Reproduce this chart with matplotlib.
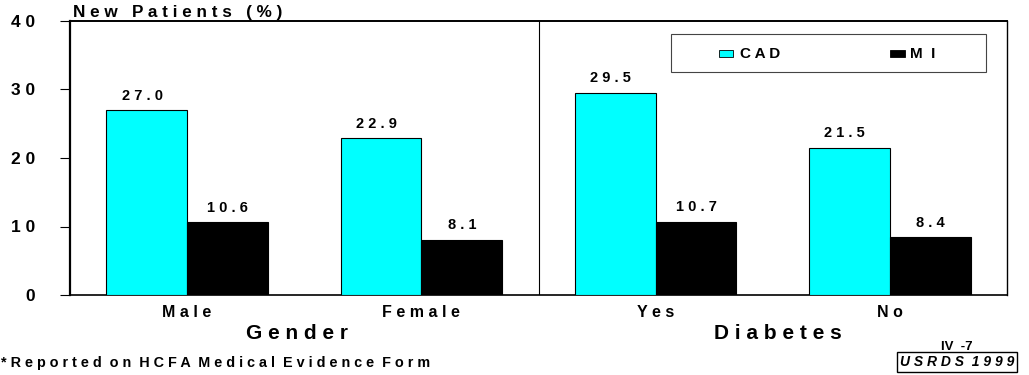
import matplotlib
matplotlib.use("Agg")
import matplotlib.pyplot as plt
from matplotlib.patches import Rectangle
import numpy as np

categories = ["Male", "Female", "Yes", "No"]
cad = [27.0, 22.9, 29.5, 21.5]
mi = [10.6, 8.1, 10.7, 8.4]
group_names = ["Gender", "Diabetes"]
group_centers = [0.47, 2.52]
series_names = ["CAD", "MI"]
y_ticks = [0, 10, 20, 30, 40]

CYAN = "#00FFFF"
FONT = "Liberation Sans"
plt.rcParams["font.family"] = [FONT, "DejaVu Sans"]


def spaced(s):
    return " ".join(s).replace("   ", "  ")


fig = plt.figure(figsize=(10.29, 3.75), dpi=100)
ax = fig.add_axes([70 / 1029, 1 - 295 / 375, (1007 - 70) / 1029, (295 - 21) / 375])

x = np.arange(len(categories))
w = 0.345
ax.bar(x - w / 2, cad, w, color=CYAN, edgecolor="black", linewidth=0.8, zorder=3)
ax.bar(x + w / 2, mi, w, color="black", edgecolor="black", linewidth=0.8, zorder=3)

for xi, v in zip(x - w / 2, cad):
    ax.text(xi - 0.02, v + 1.1, spaced(f"{v:.1f}"), ha="center", va="bottom",
            fontsize=10.5, fontweight="bold")
for xi, v in zip(x + w / 2, mi):
    ax.text(xi, v + 1.1, spaced(f"{v:.1f}"), ha="center", va="bottom",
            fontsize=10.5, fontweight="bold")

ax.set_xlim(-0.5, 3.5)
ax.set_ylim(0, 40)
ax.set_yticks(y_ticks)
ax.set_yticklabels([spaced(str(t)) for t in y_ticks], fontsize=12.5, fontweight="bold")
ax.tick_params(axis="y", direction="out", length=7, width=0.8, pad=18)
ax.set_xticks([])
for side in ["left", "top", "right", "bottom"]:
    ax.spines[side].set_color("black")
ax.spines["left"].set_linewidth(1.6)
ax.spines["top"].set_linewidth(1.4)
ax.spines["right"].set_linewidth(1.0)
ax.spines["bottom"].set_linewidth(1.2)

# divider between the two groupings
ax.axvline(1.5, color="black", linewidth=0.8, zorder=2)

# category labels below the axis
for xi, c in zip(x, categories):
    ax.annotate(spaced(c), xy=(xi, 0), xycoords=("data", "axes fraction"),
                xytext=(0, -7), textcoords="offset points", ha="center", va="top",
                fontsize=11.5, fontweight="bold")
for gc, g in zip(group_centers, group_names):
    ax.annotate(spaced(g), xy=(gc, 0), xycoords=("data", "axes fraction"),
                xytext=(0, -21), textcoords="offset points", ha="center", va="top",
                fontsize=15, fontweight="bold")

# y-axis title sitting on top of the frame
fig.text(73 / 1029, 1 - 20 / 375, " ".join("New Patients (%)"),
         ha="left", va="bottom", fontsize=12.3, fontweight="bold")

# legend box
fig.patches.append(Rectangle((671 / 1029, 1 - 72 / 375), (986 - 671) / 1029, (72 - 34) / 375,
                             transform=fig.transFigure, facecolor="white",
                             edgecolor="#444444", linewidth=0.8, zorder=5))
fig.patches.append(Rectangle((719 / 1029, 1 - 57 / 375), 14 / 1029, 7 / 375,
                             transform=fig.transFigure, facecolor=CYAN,
                             edgecolor="black", linewidth=0.6, zorder=6))
fig.text(740 / 1029, 1 - 53.5 / 375, spaced(series_names[0]), ha="left", va="center",
         fontsize=11, fontweight="bold", zorder=6)
fig.patches.append(Rectangle((890 / 1029, 1 - 57 / 375), 15 / 1029, 7 / 375,
                             transform=fig.transFigure, facecolor="black",
                             edgecolor="black", linewidth=0.6, zorder=6))
fig.text(910 / 1029, 1 - 53.5 / 375, " ".join(series_names[1]).replace("M I", "M  I"),
         ha="left", va="center", fontsize=11, fontweight="bold", zorder=6)

# footnote and page tag
fig.text(1 / 1029, 1 - 363 / 375, spaced("*Reported on HCFA Medical Evidence Form"),
         ha="left", va="center", fontsize=10.4, fontweight="bold")
fig.text(957 / 1029, 1 - 347 / 375, "IV  -7", ha="center", va="center",
         fontsize=9.5, fontweight="bold")
fig.text(957 / 1029, 1 - 362 / 375, spaced("USRDS 1999"),
         ha="center", va="center", fontsize=10, fontweight="bold", style="italic",
         bbox=dict(boxstyle="square,pad=0.2", facecolor="white", edgecolor="black",
                   linewidth=1.0))

fig.savefig("out.png", dpi=100, facecolor="white")
